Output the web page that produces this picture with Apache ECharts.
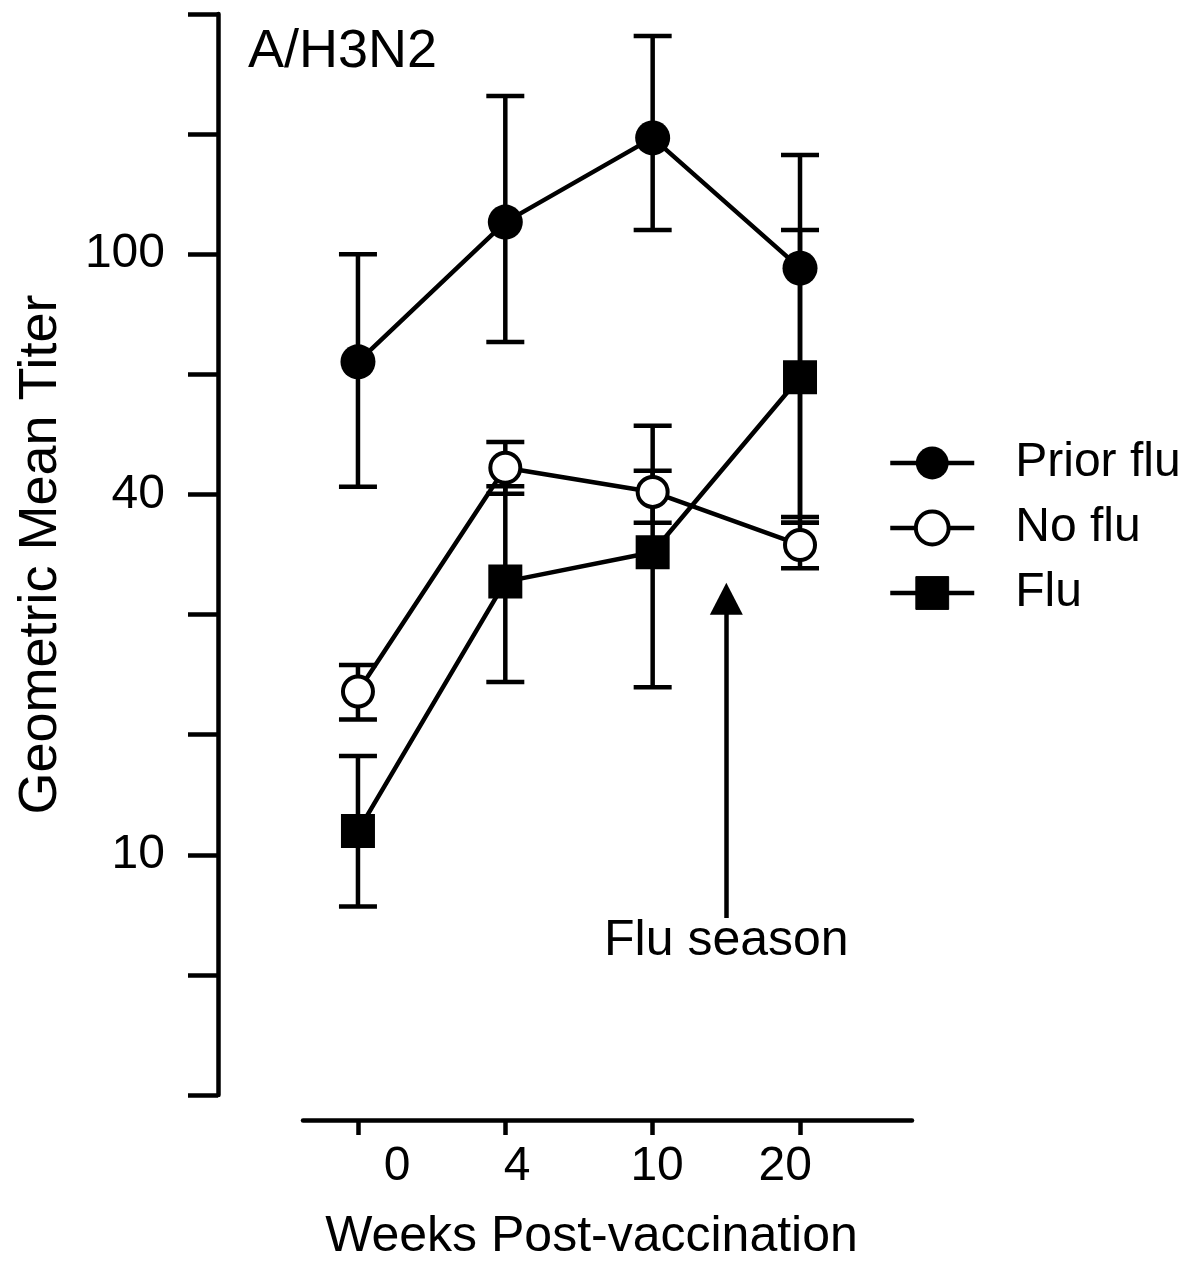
<!DOCTYPE html>
<html>
<head>
<meta charset="utf-8">
<script src="https://cdn.jsdelivr.net/npm/echarts@6/dist/echarts.min.js"></script>
<style>
html,body{margin:0;padding:0;background:#fff;}
#chart{width:1198px;height:1263px;}
</style>
</head>
<body>
<div id="chart"></div>
<script>
// ---- data ----
const weeks = ['0', '4', '10', '20'];
const priorFlu     = [66.2, 113.1, 156.2, 94.8];
const priorFluLow  = [41.0, 71.4, 109.7, 36.5];
const priorFluHigh = [100.0, 183.4, 230.9, 146.3];
const noFlu        = [18.7, 44.1, 40.2, 32.8];
const noFluLow     = [16.8, 39.9, 35.7, 30.0];
const noFluHigh    = [20.7, 48.7, 51.8, 35.7];
const flu          = [10.95, 28.5, 31.9, 62.4];
const fluLow       = [8.2, 19.4, 19.0, 35.7];
const fluHigh      = [14.6, 41.1, 43.6, 109.7];
const seriesNames  = ['Prior flu', 'No flu', 'Flu'];
const yTickLabels  = [10, 40, 100];
const fluSeasonX   = 2.5;           // between week 10 and week 20
const fluSeasonFrom = 7.85;
const fluSeasonTo   = 26.7;
const fluSeasonLabel = 'Flu season';

// ---- layout helpers ----
const xLabelShift = [0.265, 0.08, 0.03, -0.10];
const FONT = 'Liberation Sans, Arial, Helvetica, sans-serif';
const LW = 4.5;

function pts(arr){ return weeks.map((w,i)=>[i, arr[i]]); }
function errs(lo, hi){ return weeks.map((w,i)=>[i, lo[i], hi[i]]); }

function errRender(params, api){
  const x = api.value(0);
  const pLo = api.coord([x, api.value(1)]);
  const pHi = api.coord([x, api.value(2)]);
  const hw = 19;
  const style = {stroke:'#000', lineWidth:LW, fill:null};
  return {type:'group', children:[
    {type:'line', shape:{x1:pLo[0], y1:pLo[1], x2:pHi[0], y2:pHi[1]}, style:style},
    {type:'line', shape:{x1:pLo[0]-hw, y1:pLo[1], x2:pLo[0]+hw, y2:pLo[1]}, style:style},
    {type:'line', shape:{x1:pHi[0]-hw, y1:pHi[1], x2:pHi[0]+hw, y2:pHi[1]}, style:style}
  ]};
}
function errSeries(lo, hi){
  return {type:'custom', renderItem:errRender, data:errs(lo,hi), encode:{x:0, y:[1,2]}, z:1, silent:true};
}

const chart = echarts.init(document.getElementById('chart'), null, {renderer:'canvas'});
const option = {
  backgroundColor:'#fff',
  animation:false,
  textStyle:{fontFamily:FONT, color:'#000'},
  title:{text:'A/H3N2', left:243, top:20, textStyle:{fontSize:54, fontWeight:'normal', color:'#000', fontFamily:FONT}},
  legend:{
    data:[
      {name:seriesNames[0]},
      {name:seriesNames[1], itemStyle:{borderWidth:4, borderColor:'#000', color:'#fff'}},
      {name:seriesNames[2], itemStyle:{borderWidth:1, borderColor:'#000'}}
    ],
    orient:'vertical', left:883, top:434,
    itemWidth:84, itemHeight:41, itemGap:17,
    lineStyle:{width:LW, color:'#000'},
    textStyle:{fontSize:48, color:'#000', fontFamily:FONT, padding:[0,0,0,36]}
  },
  grid:{left:303, right:286, top:14, bottom:168, containLabel:false, outerBoundsMode:'none'},
  xAxis:{
    type:'value', min:-0.373, max:3.76, offset:25,
    axisLine:{show:true, onZero:false, lineStyle:{color:'#000', width:LW}},
    axisTick:{show:true, length:15, lineStyle:{color:'#000', width:LW}, customValues:[0,1,2,3]},
    axisLabel:{fontSize:48, color:'#000', margin:23, fontFamily:FONT,
      customValues: weeks.map((w,i)=>i + xLabelShift[i]),
      formatter:function(v){ return weeks[Math.round(v)] || ''; }},
    splitLine:{show:false},
    name:'Weeks Post-vaccination', nameLocation:'middle', nameGap:92,
    nameTextStyle:{fontSize:50, color:'#000', fontFamily:FONT, padding:[0,32,0,0]}
  },
  yAxis:{
    type:'log', logBase:Math.pow(10,0.2), min:Math.pow(10,0.6), max:Math.pow(10,2.4), offset:85,
    axisLine:{show:true, onZero:false, lineStyle:{color:'#000', width:LW}},
    axisTick:{show:true, length:30, lineStyle:{color:'#000', width:LW}},
    axisLabel:{fontSize:48, color:'#000', margin:53, fontFamily:FONT,
      formatter:function(v){
        for (const t of yTickLabels){ if (Math.abs(Math.log10(v)-Math.log10(t))<0.01) return String(t); }
        return '';
      }},
    splitLine:{show:false},
    name:'Geometric Mean Titer', nameLocation:'middle', nameGap:150, nameRotate:90,
    nameTextStyle:{fontSize:54, color:'#000', fontFamily:FONT}
  },
  series:[
    errSeries(priorFluLow, priorFluHigh),
    errSeries(noFluLow, noFluHigh),
    errSeries(fluLow, fluHigh),
    {name:seriesNames[0], type:'line', data:pts(priorFlu), symbol:'circle', symbolSize:35, z:3,
     lineStyle:{color:'#000', width:LW}, itemStyle:{color:'#000'}},
    {name:seriesNames[1], type:'line', data:pts(noFlu), symbol:'circle', symbolSize:30, z:3,
     lineStyle:{color:'#000', width:LW}, itemStyle:{color:'#fff', borderColor:'#000', borderWidth:4}},
    {name:seriesNames[2], type:'line', data:pts(flu), symbol:'rect', symbolSize:34, z:3,
     lineStyle:{color:'#000', width:LW}, itemStyle:{color:'#000'},
     markLine:{silent:true, symbol:['none','triangle'], symbolSize:[33,32],
       lineStyle:{color:'#000', width:LW, type:'solid'},
       label:{show:true, position:'start', formatter:fluSeasonLabel, fontSize:50, color:'#000', fontFamily:FONT, distance:-2},
       data:[[{coord:[fluSeasonX, fluSeasonFrom]},{coord:[fluSeasonX, fluSeasonTo]}]]}}
  ]
};
chart.setOption(option);
</script>
</body>
</html>
